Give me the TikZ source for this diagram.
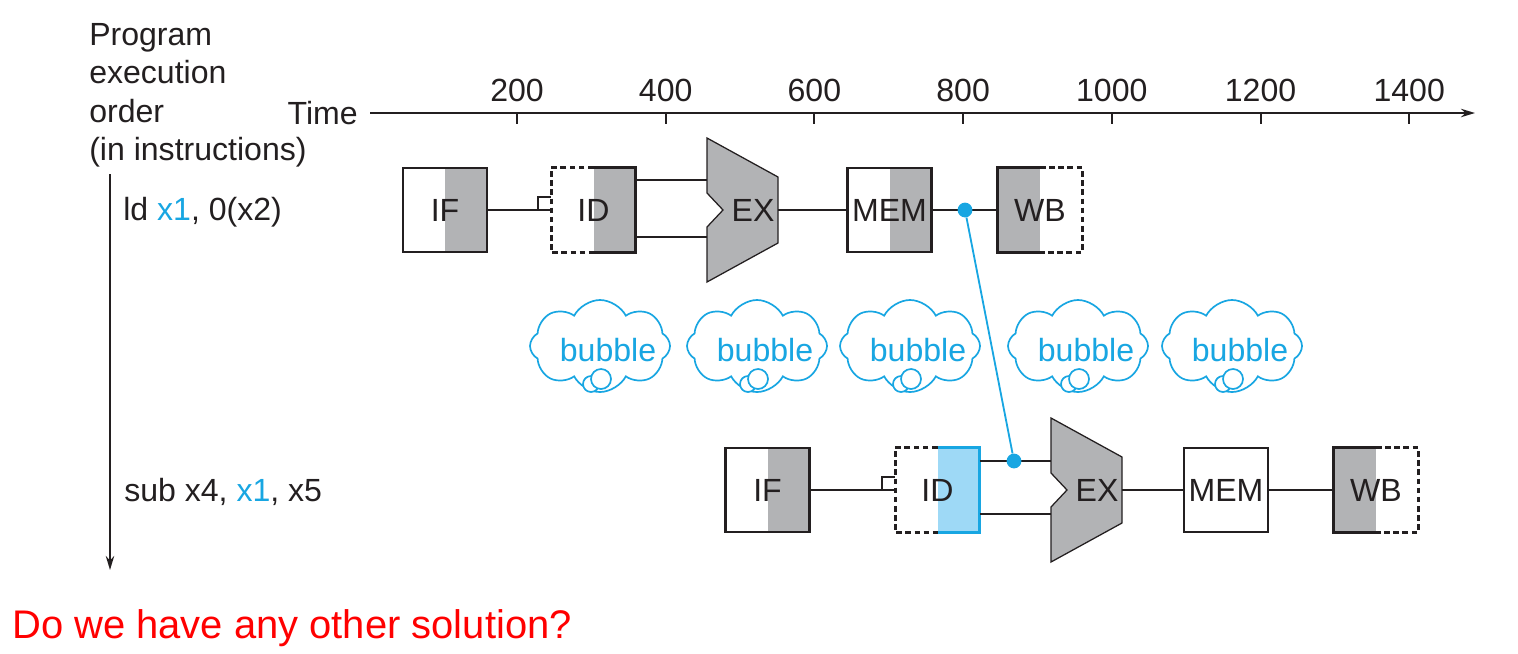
\documentclass[tikz,border=0pt]{standalone}
\usepackage{fontspec}
\setmainfont{Liberation Sans}
\usetikzlibrary{positioning,calc,arrows.meta,shapes.symbols}
\definecolor{inkgray}{RGB}{35,31,32}
\definecolor{stagegray}{RGB}{178,179,181}
\definecolor{fwdblue}{RGB}{24,166,226}
\definecolor{idblue}{RGB}{158,217,246}
\newcommand\mainsize{\fontsize{22.8}{27.4}\selectfont}
\tikzset{
  stagebox/.style={minimum width=2.1cm,minimum height=2.1cm,inner sep=0pt,
    fill=white,text=inkgray},
  solidbox/.style={stagebox,draw=inkgray,line width=2pt},
  grayright/.style={path picture={\fill[stagegray] (path picture bounding box.north)
    rectangle (path picture bounding box.south east);}},
  grayleft/.style={path picture={\fill[stagegray] (path picture bounding box.north west)
    rectangle (path picture bounding box.south);}},
  blueright/.style={path picture={\fill[idblue] (path picture bounding box.north)
    rectangle (path picture bounding box.south east);}},
  boxline/.style={draw=inkgray,line width=2pt},
  halfdash/.style={boxline,dash pattern=on 4pt off 2.5pt},
  link/.style={draw=inkgray,line width=1.1pt},
  alu/.style={draw=inkgray,line width=0.9pt,fill=stagegray,line join=miter},
  axis/.style={draw=inkgray,line width=1.4pt},
  fwddot/.style={circle,fill=fwdblue,inner sep=0pt,minimum size=0.37cm},
  fwdline/.style={draw=fwdblue,line width=1.3pt},
  bubblecloud/.style={cloud,cloud puffs=8,cloud puff arc=125,aspect=1.5,
    minimum width=3.5cm,minimum height=2.3cm,inner sep=0pt,
    draw=fwdblue,line width=1.2pt,fill=white},
  bubbletext/.style={text=fwdblue,inner sep=0pt},
  puff/.style={draw=fwdblue,line width=1.2pt,fill=white}
}
\begin{document}
\begin{tikzpicture}[x=0.025cm,y=-0.025cm,font=\mainsize,text=inkgray,
    >={Stealth[length=10pt,width=6pt]}]
  \useasboundingbox (0,0) rectangle (1518,653);
  %% Axes
  \node[align=left,anchor=north west,inner sep=0pt] (order) at (89,23)
    {Program\\execution\\order\\(in instructions)};
  \node[anchor=base east,inner sep=0pt] (time) at (358,124) {Time};
  \draw[axis,->] (370,113) -- (1475,113);
  \foreach \ms in {200,400,...,1400}{
    \draw[axis] ({368.3+0.7435*\ms},113) -- ++(0,11);
    \node[anchor=base,inner sep=0pt] (tick\ms) at ({368.3+0.7435*\ms},101) {\ms};
  }
  \draw[axis,->] (110,174) -- (110,570);
  %% Instructions
  \node[anchor=base west,inner sep=0pt] (ins1) at (123,220)
    {ld \textcolor{fwdblue}{x1}, 0(x2)};
  \node[anchor=base west,inner sep=0pt] (ins2) at (124,501)
    {sub x4, \textcolor{fwdblue}{x1}, x5};
  %% First pipeline
  \node[solidbox,grayright] (if1) at (445,210) {IF};
  \node[stagebox,grayright] (id1) at (593.5,210) {ID};
  \draw[halfdash] (id1.north) -| (id1.south west) -- (id1.south);
  \draw[boxline] (id1.north) -| (id1.south east) -- (id1.south);
  \draw[link] (if1) -- (id1);
  \draw[link] ($(id1.west)+(-13,0)$) |- ($(id1.west)+(0,-13)$);
  \draw[alu] (707,138) -- ++(71,39) -- ++(0,66) -- ++(-71,39) -- ++(0,-55)
    -- ++(16,-17) -- ++(-16,-17) -- cycle;
  \node[inner sep=0pt] (ex1) at (753,210) {EX};
  \coordinate (ex1up) at (707,180);
  \coordinate (ex1dn) at (707,237);
  \coordinate (ex1out) at (778,210);
  \draw[link] (id1.east |- ex1up) -- (ex1up);
  \draw[link] (id1.east |- ex1dn) -- (ex1dn);
  \node[solidbox,grayright] (mem1) at (889.5,210) {MEM};
  \draw[link] (ex1out) -- (mem1);
  \node[stagebox,grayleft] (wb1) at (1040,210) {WB};
  \draw[boxline] (wb1.north) -| (wb1.south west) -- (wb1.south);
  \draw[halfdash] (wb1.north) -| (wb1.south east) -- (wb1.south);
  \draw[link] (mem1) -- (wb1);
  %% Bubbles
  \foreach \x [count=\i] in {600,757,910,1078,1232}{
    \node[bubblecloud] (cloud\i) at (\x,346) {};
    \node[bubbletext] (bub\i) at ($(cloud\i)+(8,4)$) {bubble};
    \draw[puff] ($(cloud\i)+(-9,38)$) circle (8);
    \draw[puff] ($(cloud\i)+(1,33)$) circle (10);
  }
  %% Second pipeline
  \node[solidbox,grayright] (if2) at (767.5,490) {IF};
  \node[stagebox,blueright] (id2) at (937.5,490) {ID};
  \draw[halfdash] (id2.north) -| (id2.south west) -- (id2.south);
  \draw[boxline,draw=fwdblue] (id2.north) -| (id2.south east) -- (id2.south);
  \draw[link] (if2) -- (id2);
  \draw[link] ($(id2.west)+(-13,0)$) |- ($(id2.west)+(0,-13)$);
  \draw[alu] (1051,418) -- ++(71,39) -- ++(0,66) -- ++(-71,39) -- ++(0,-55)
    -- ++(16,-17) -- ++(-16,-17) -- cycle;
  \node[inner sep=0pt] (ex2) at (1097,490) {EX};
  \coordinate (ex2up) at (1051,461);
  \coordinate (ex2dn) at (1051,514);
  \coordinate (ex2out) at (1122,490);
  \draw[link] (id2.east |- ex2up) -- (ex2up);
  \draw[link] (id2.east |- ex2dn) -- (ex2dn);
  \node[solidbox] (mem2) at (1226,490) {MEM};
  \draw[link] (ex2out) -- (mem2);
  \node[stagebox,grayleft] (wb2) at (1376,490) {WB};
  \draw[boxline] (wb2.north) -| (wb2.south west) -- (wb2.south);
  \draw[halfdash] (wb2.north) -| (wb2.south east) -- (wb2.south);
  \draw[link] (mem2) -- (wb2);
  %% Forwarding
  \node[fwddot] (fw1) at (965,210) {};
  \node[fwddot] (fw2) at (1014,461) {};
  \draw[fwdline] (fw1) -- (fw2);
  %% Question
  \node[anchor=base west,inner sep=0pt,text=red,font=\fontsize{28.4}{34}\selectfont]
    (question) at (12,638) {Do we have any other solution?};
\end{tikzpicture}
\end{document}
